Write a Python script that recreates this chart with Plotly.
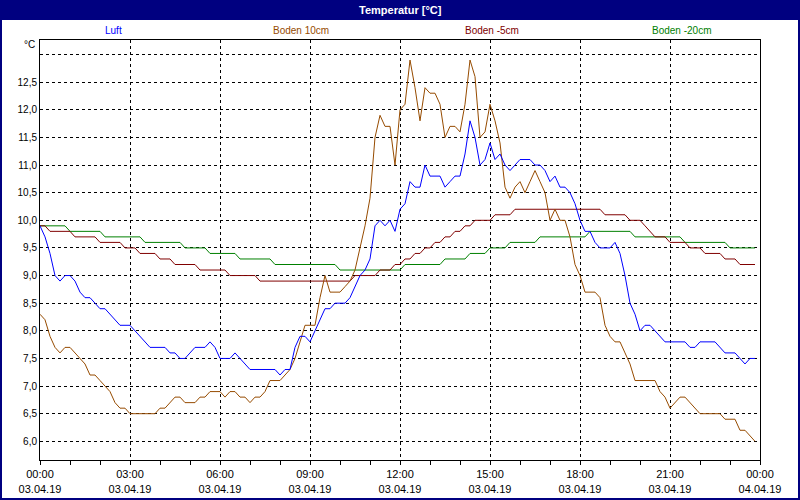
import pandas as pd
import plotly.graph_objects as go

# ---------------- data (minutes after 03.04.19 00:00, temperature in °C) ----------------
day_start = "2019-04-03 00:00"

luft_min = [0, 10, 20, 30, 40, 50, 60, 70, 80, 90, 100, 110, 120, 130, 140, 150, 160, 180, 190, 200,
            210, 220, 250, 260, 270, 280, 290, 300, 310, 330, 340, 350, 360, 380, 390, 400, 410, 420,
            470, 480, 490, 500, 510, 520, 530, 540, 550, 560, 570, 580, 590, 600, 610, 620, 630, 640,
            650, 660, 670, 680, 690, 700, 710, 720, 730, 740, 750, 760, 770, 780, 800, 810, 820, 830,
            840, 850, 860, 870, 880, 890, 900, 910, 920, 930, 940, 950, 960, 980, 990, 1000, 1010,
            1020, 1030, 1040, 1050, 1060, 1070, 1080, 1090, 1100, 1110, 1120, 1140, 1150, 1160, 1170,
            1180, 1190, 1200, 1210, 1220, 1230, 1240, 1250, 1290, 1300, 1310, 1320, 1350, 1360, 1370,
            1390, 1400, 1410, 1420, 1430]
luft_val = [9.9, 9.7, 9.4, 9.0, 8.9, 9.0, 9.0, 8.9, 8.7, 8.6, 8.6, 8.5, 8.4, 8.4, 8.3, 8.2, 8.1, 8.1, 8.0, 7.9,
            7.8, 7.7, 7.7, 7.6, 7.6, 7.5, 7.5, 7.6, 7.7, 7.7, 7.8, 7.7, 7.5, 7.5, 7.6, 7.5, 7.4, 7.3,
            7.3, 7.2, 7.3, 7.3, 7.7, 7.9, 7.9, 7.8, 8.0, 8.2, 8.4, 8.4, 8.5, 8.5, 8.5, 8.6, 8.8, 9.0,
            9.1, 9.3, 9.9, 10.0, 9.9, 10.0, 9.8, 10.2, 10.3, 10.7, 10.6, 10.6, 11.0, 10.8, 10.8, 10.6, 10.7, 10.8,
            10.8, 11.2, 11.8, 11.5, 11.0, 11.1, 11.4, 11.1, 11.2, 11.0, 10.9, 11.0, 11.1, 11.1, 11.0, 11.0, 10.9,
            10.7, 10.8, 10.6, 10.6, 10.5, 10.3, 10.0, 9.8, 9.8, 9.6, 9.5, 9.5, 9.6, 9.4, 9.0,
            8.5, 8.3, 8.0, 8.1, 8.1, 8.0, 7.9, 7.8, 7.8, 7.7, 7.7, 7.8, 7.8, 7.7, 7.6,
            7.6, 7.5, 7.4, 7.5, 7.5]

boden10_min = [0, 10, 20, 30, 40, 50, 60, 70, 80, 90, 100, 110, 120, 130, 140, 150, 160, 170, 180, 230,
               240, 250, 260, 270, 280, 290, 310, 320, 330, 340, 360, 370, 380, 390, 400, 410, 420, 430,
               440, 450, 460, 480, 490, 500, 510, 520, 530, 550, 560, 570, 580, 590, 600, 610, 620, 630,
               640, 650, 660, 670, 680, 690, 700, 710, 720, 730, 740, 750, 760, 770, 780, 790, 800, 810,
               820, 830, 840, 850, 860, 870, 880, 890, 900, 910, 920, 930, 940, 950, 960, 970, 980, 990,
               1000, 1010, 1020, 1030, 1040, 1050, 1060, 1070, 1080, 1090, 1110, 1120, 1130, 1140, 1150,
               1160, 1170, 1180, 1190, 1230, 1240, 1250, 1260, 1270, 1280, 1290, 1300, 1310, 1320, 1360,
               1370, 1390, 1400, 1410, 1420, 1430]
boden10_val = [8.3, 8.2, 7.9, 7.7, 7.6, 7.7, 7.7, 7.6, 7.5, 7.4, 7.2, 7.2, 7.1, 7.0, 6.9, 6.7, 6.6, 6.6, 6.5, 6.5,
               6.6, 6.6, 6.7, 6.8, 6.8, 6.7, 6.7, 6.8, 6.8, 6.9, 6.9, 6.8, 6.9, 6.9, 6.8, 6.8, 6.7, 6.8,
               6.8, 6.9, 7.1, 7.1, 7.2, 7.3, 7.5, 7.8, 8.1, 8.1, 8.6, 9.0, 8.7, 8.7, 8.7, 8.8, 8.9, 9.1,
               9.5, 9.9, 10.4, 11.5, 11.9, 11.7, 11.7, 11.0, 12.0, 12.1, 12.9, 12.4, 11.8, 12.4, 12.3, 12.3, 12.1, 11.5,
               11.7, 11.7, 11.6, 12.1, 12.9, 12.6, 11.5, 11.6, 12.1, 11.8, 11.4, 10.6, 10.4, 10.6, 10.7, 10.5, 10.7, 10.9,
               10.7, 10.5, 10.0, 10.2, 10.0, 10.0, 9.7, 9.2, 9.0, 8.7, 8.7, 8.6, 8.1, 7.9, 7.8,
               7.8, 7.6, 7.4, 7.1, 7.1, 6.9, 6.8, 6.6, 6.7, 6.8, 6.8, 6.7, 6.6, 6.5, 6.5,
               6.4, 6.4, 6.2, 6.2, 6.1, 6.0]

boden5_min = [0, 10, 20, 60, 70, 110, 120, 160, 170, 190, 200, 230, 240, 260, 270, 310, 320, 370, 380, 430,
              440, 620, 630, 670, 680, 700, 710, 720, 730, 740, 750, 760, 770, 780, 790, 800, 810, 820,
              830, 840, 850, 860, 870, 900, 910, 940, 950, 1120, 1130, 1170, 1180, 1200, 1210, 1220, 1230,
              1250, 1260, 1290, 1300, 1320, 1330, 1360, 1370, 1390, 1400, 1430]
boden5_val = [9.9, 9.9, 9.8, 9.8, 9.7, 9.7, 9.6, 9.6, 9.5, 9.5, 9.4, 9.4, 9.3, 9.3, 9.2, 9.2, 9.1, 9.1, 9.0, 9.0,
              8.9, 8.9, 9.0, 9.0, 9.1, 9.1, 9.2, 9.2, 9.3, 9.3, 9.4, 9.4, 9.5, 9.5, 9.6, 9.6, 9.7, 9.7,
              9.8, 9.8, 9.9, 9.9, 10.0, 10.0, 10.1, 10.1, 10.2, 10.2, 10.1, 10.1, 10.0, 10.0, 9.9, 9.8, 9.7,
              9.7, 9.6, 9.6, 9.5, 9.5, 9.4, 9.4, 9.3, 9.3, 9.2, 9.2]

boden20_min = [0, 50, 60, 120, 130, 200, 210, 280, 290, 330, 340, 390, 400, 460, 470, 590, 600, 720, 730, 800,
               810, 850, 860, 890, 900, 930, 940, 990, 1000, 1090, 1100, 1180, 1190, 1280, 1290, 1370,
               1380, 1430]
boden20_val = [9.9, 9.9, 9.8, 9.8, 9.7, 9.7, 9.6, 9.6, 9.5, 9.5, 9.4, 9.4, 9.3, 9.3, 9.2, 9.2, 9.1, 9.1, 9.2, 9.2,
               9.3, 9.3, 9.4, 9.4, 9.5, 9.5, 9.6, 9.6, 9.7, 9.7, 9.8, 9.8, 9.7, 9.7, 9.6, 9.6,
               9.5, 9.5]

series_names = ["Luft", "Boden 10cm", "Boden -5cm", "Boden -20cm"]
series_colors = ["#0000FF", "#964B00", "#800000", "#008000"]

x_tick_hours = [0, 3, 6, 9, 12, 15, 18, 21, 24]
x_tick_times = ["00:00", "03:00", "06:00", "09:00", "12:00", "15:00", "18:00", "21:00", "00:00"]
x_tick_dates = ["03.04.19", "03.04.19", "03.04.19", "03.04.19", "03.04.19", "03.04.19", "03.04.19",
                "03.04.19", "04.04.19"]

y_tick_vals = [6.0, 6.5, 7.0, 7.5, 8.0, 8.5, 9.0, 9.5, 10.0, 10.5, 11.0, 11.5, 12.0, 12.5, 13.0]
y_tick_text = ["6,0", "6,5", "7,0", "7,5", "8,0", "8,5", "9,0", "9,5", "10,0", "10,5", "11,0", "11,5",
               "12,0", "12,5", ""]

title_text = "Temperatur [°C]"
unit_text = "°C"

# ---------------- figure ----------------
base = pd.Timestamp(day_start)


def to_time(minutes):
    return [base + pd.Timedelta(minutes=m) for m in minutes]


FONT = "Liberation Sans"
NAVY = "#000080"

fig = go.Figure()
data = [(luft_min, luft_val), (boden10_min, boden10_val), (boden5_min, boden5_val),
        (boden20_min, boden20_val)]
# draw order: green, red, brown, blue on top
for idx in [3, 2, 1, 0]:
    mins, vals = data[idx]
    fig.add_trace(go.Scatter(x=to_time(mins), y=vals, mode="lines", name=series_names[idx],
                             line=dict(color=series_colors[idx], width=1), hoverinfo="skip"))

tickvals = [base + pd.Timedelta(hours=h) for h in x_tick_hours]
ticktext = [f"{t}<br>{d}" for t, d in zip(x_tick_times, x_tick_dates)]

fig.update_xaxes(
    range=[base, base + pd.Timedelta(hours=24)],
    tickmode="array", tickvals=tickvals, ticktext=ticktext,
    ticks="outside", ticklen=4, tickcolor="black", tickwidth=1,
    showline=True, linecolor="black", linewidth=1, mirror=True,
    showgrid=True, gridcolor="black", gridwidth=1, griddash="3px,3px",
    zeroline=False, automargin=False,
    tickfont=dict(family=FONT, size=11, color="black"),
    minor=dict(tickmode="linear", tick0=base, dtick=3600000, ticks="outside", ticklen=4,
               tickcolor="black", showgrid=False),
)
fig.update_yaxes(
    range=[5.662, 13.263],
    tickmode="array", tickvals=y_tick_vals, ticktext=y_tick_text,
    ticks="", showline=True, linecolor="black", linewidth=1, mirror=True,
    showgrid=True, gridcolor="black", gridwidth=1, griddash="3px,3px",
    zeroline=False, automargin=False,
    tickfont=dict(family=FONT, size=10, color="black"),
)


def px_x(X):
    return (X - 40) / 720


def px_y(Y):
    return (460 - Y) / 420


shapes = [
    dict(type="rect", xref="paper", yref="paper", x0=px_x(0), x1=px_x(800), y0=px_y(20), y1=px_y(0),
         fillcolor=NAVY, line=dict(width=0), layer="below"),
    dict(type="rect", xref="paper", yref="paper", x0=px_x(1), x1=px_x(799), y0=px_y(499), y1=px_y(1),
         fillcolor="rgba(0,0,0,0)", line=dict(color=NAVY, width=2), layer="above"),
]

annotations = [
    dict(text=f"<b>{title_text}</b>", xref="paper", yref="paper", x=px_x(400), y=px_y(10),
         xanchor="center", yanchor="middle", showarrow=False,
         font=dict(family=FONT, size=11, color="white")),
    dict(text=unit_text, xref="paper", yref="paper", x=px_x(37), y=px_y(45),
         xanchor="right", yanchor="middle", showarrow=False,
         font=dict(family=FONT, size=10, color="black")),
]
legend_x = [113, 301, 492, 681]
for name, color, lx in zip(series_names, series_colors, legend_x):
    annotations.append(dict(text=name, xref="paper", yref="paper", x=px_x(lx), y=px_y(30),
                            xanchor="center", yanchor="middle", showarrow=False,
                            font=dict(family=FONT, size=10, color=color)))

fig.update_layout(
    width=800, height=500,
    margin=dict(l=40, r=40, t=40, b=40, autoexpand=False),
    paper_bgcolor="white", plot_bgcolor="white",
    showlegend=False,
    shapes=shapes, annotations=annotations,
)

fig.write_html("out.html", config={"displayModeBar": False},
               post_script="document.body.style.margin='0';")
